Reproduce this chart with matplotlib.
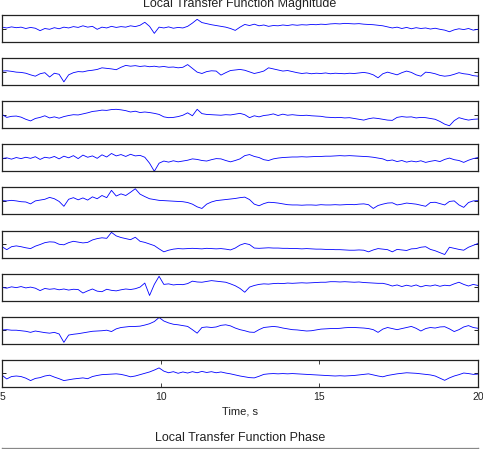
import numpy as np
import matplotlib
matplotlib.use("Agg")
import matplotlib.pyplot as plt

plt.rcParams["font.family"] = ["Liberation Sans", "DejaVu Sans"]

# time axis, 101 samples from 5 s to 20 s
time = np.linspace(5, 20, 101)

# magnitude traces (arbitrary units, 0..100 per strip)
ch1 = [55, 52, 56, 53, 55, 50, 54, 51, 42, 50, 47, 53, 49, 55, 52, 57, 54, 60, 55, 58,
       47, 55, 52, 58, 54, 57, 55, 60, 57, 62, 73, 58, 32, 55, 52, 56, 51, 54, 52, 58,
       70, 84, 72, 68, 64, 61, 58, 55, 50, 43, 55, 65, 61, 66, 60, 63, 58, 61, 60, 63,
       61, 64, 62, 64, 63, 65, 64, 66, 65, 67, 68, 67, 69, 68, 67, 68, 66, 65, 64, 62,
       60, 56, 52, 55, 50, 54, 49, 53, 50, 52, 48, 51, 47, 44, 38, 45, 49, 46, 50, 44, 47]
ch2 = [52, 53, 51, 48, 47, 44, 38, 33, 42, 46, 30, 44, 40, 12, 38, 46, 50, 49, 53, 55,
       58, 64, 62, 60, 57, 66, 73, 70, 72, 69, 71, 68, 70, 67, 69, 66, 67, 64, 66, 76,
       62, 48, 43, 50, 53, 52, 37, 46, 54, 56, 58, 55, 49, 43, 47, 52, 64, 60, 56, 52,
       54, 50, 46, 43, 45, 42, 44, 43, 45, 42, 44, 43, 42, 44, 43, 45, 47, 44, 38, 27,
       42, 48, 43, 38, 46, 52, 47, 38, 33, 48, 46, 42, 36, 33, 35, 40, 46, 42, 40, 35, 33]
ch3 = [51, 40, 44, 45, 41, 33, 27, 36, 40, 46, 38, 42, 37, 43, 47, 50, 49, 53, 57, 62,
       64, 67, 66, 69, 70, 68, 65, 60, 63, 58, 60, 58, 55, 51, 42, 39, 40, 43, 48, 57,
       46, 70, 54, 51, 50, 49, 48, 50, 49, 52, 55, 50, 39, 46, 42, 47, 49, 53, 47, 52,
       48, 50, 48, 47, 48, 46, 45, 44, 41, 40, 39, 40, 38, 39, 36, 33, 30, 35, 38, 36,
       33, 30, 29, 40, 43, 41, 42, 38, 40, 39, 36, 33, 25, 15, 9, 28, 39, 34, 30, 33, 34]
ch4 = [47, 50, 45, 51, 47, 52, 48, 54, 44, 52, 49, 55, 46, 56, 50, 58, 47, 60, 52, 57,
       48, 61, 53, 66, 57, 62, 55, 63, 57, 59, 52, 30, 0, 30, 38, 34, 39, 35, 38, 41,
       46, 44, 40, 38, 43, 47, 46, 40, 35, 40, 46, 58, 62, 55, 51, 43, 40, 46, 49, 51,
       52, 53, 53, 54, 53, 54, 55, 55, 56, 56, 57, 58, 57, 58, 57, 56, 55, 54, 52, 49,
       46, 39, 42, 36, 40, 34, 38, 35, 39, 33, 37, 40, 36, 44, 49, 43, 40, 33, 41, 47, 51]
ch5 = [51, 50, 52, 50, 47, 46, 39, 50, 53, 56, 63, 58, 48, 30, 56, 62, 54, 61, 53, 65,
       58, 70, 62, 89, 68, 76, 70, 82, 95, 75, 66, 58, 55, 52, 51, 50, 49, 48, 47, 44,
       38, 28, 22, 38, 46, 51, 53, 55, 57, 59, 62, 64, 55, 38, 32, 40, 45, 44, 42, 39,
       36, 35, 35, 34, 35, 35, 34, 36, 35, 35, 36, 35, 36, 37, 36, 38, 39, 36, 22, 33,
       38, 42, 43, 35, 38, 42, 40, 38, 34, 30, 44, 45, 40, 35, 48, 50, 35, 26, 44, 50, 51]
ch6 = [40, 29, 40, 43, 40, 36, 33, 42, 48, 55, 58, 57, 49, 47, 55, 60, 57, 54, 56, 65,
       70, 73, 71, 93, 80, 74, 70, 66, 75, 60, 56, 50, 44, 32, 21, 27, 31, 33, 32, 33,
       34, 33, 32, 34, 33, 32, 33, 31, 28, 35, 46, 52, 48, 35, 34, 35, 36, 35, 35, 34,
       34, 33, 33, 32, 33, 32, 31, 31, 30, 30, 29, 29, 28, 27, 27, 28, 27, 21, 28, 33,
       31, 29, 21, 30, 28, 26, 32, 33, 38, 40, 30, 25, 18, 11, 38, 34, 30, 27, 38, 45, 52]
ch7 = [49, 46, 51, 48, 52, 47, 50, 46, 37, 45, 42, 44, 40, 43, 39, 42, 41, 28, 36, 43,
       35, 33, 42, 38, 36, 40, 43, 41, 44, 50, 65, 19, 60, 90, 60, 62, 58, 60, 59, 63,
       72, 69, 68, 71, 74, 72, 70, 68, 62, 55, 45, 31, 50, 56, 60, 62, 61, 63, 64, 63,
       65, 64, 65, 66, 65, 66, 67, 68, 68, 70, 70, 69, 70, 69, 68, 69, 67, 66, 65, 64,
       64, 60, 54, 58, 52, 57, 53, 58, 51, 56, 54, 58, 53, 57, 55, 62, 68, 60, 54, 60, 56]
ch8 = [51, 52, 50, 50, 48, 46, 42, 47, 44, 41, 39, 42, 36, 5, 32, 35, 37, 40, 43, 46,
       47, 48, 50, 45, 55, 60, 62, 64, 64, 65, 69, 74, 82, 97, 84, 77, 72, 70, 67, 64,
       52, 39, 60, 62, 60, 62, 68, 70, 66, 58, 52, 48, 43, 42, 52, 60, 62, 64, 62, 58,
       55, 52, 51, 49, 47, 48, 51, 54, 55, 56, 56, 57, 59, 60, 60, 59, 58, 56, 52, 42,
       54, 60, 56, 52, 56, 60, 64, 57, 47, 56, 60, 58, 62, 63, 55, 45, 52, 62, 67, 60, 57]
ch9 = [43, 29, 38, 40, 38, 32, 23, 31, 34, 40, 43, 36, 30, 23, 26, 29, 31, 33, 30, 38,
       42, 45, 46, 47, 48, 46, 42, 37, 40, 45, 50, 55, 62, 70, 58, 52, 56, 50, 55, 51,
       56, 52, 57, 53, 56, 52, 55, 51, 48, 44, 40, 37, 34, 33, 39, 46, 48, 49, 48, 49,
       48, 49, 48, 47, 46, 45, 44, 43, 42, 41, 40, 41, 40, 41, 42, 44, 46, 48, 44, 40,
       37, 42, 45, 48, 50, 52, 51, 50, 48, 46, 44, 40, 32, 24, 33, 40, 45, 51, 49, 46, 47]

channels = [ch1, ch2, ch3, ch4, ch5, ch6, ch7, ch8, ch9]
xticks = [5, 10, 15, 20]

W, H = 483, 449
fig = plt.figure(figsize=(W / 100, H / 100), dpi=100)

left = 2 / W
width = 476 / W
strip_h = 27
for k, ch in enumerate(channels):
    top = 15 + 43.1 * k
    ax = fig.add_axes([left, 1 - (top + strip_h) / H, width, strip_h / H])
    ax.plot(time, ch, color="#0000ff", lw=0.6)
    ax.set_xlim(5, 20)
    ax.set_ylim(0, 100)
    ax.set_yticks([50])
    ax.set_yticklabels([])
    for s in ax.spines.values():
        s.set_linewidth(0.9)
        s.set_color("#222222")
    ax.tick_params(axis="y", direction="in", length=3, width=0.6, left=True, right=True)
    if k == len(channels) - 1:
        ax.set_xticks(xticks)
        ax.tick_params(axis="x", direction="in", length=3, width=0.6, top=True,
                       labelsize=7.5, pad=3.5, colors="#222222")
    else:
        ax.set_xticks([])

fig.text(240 / W, 1 - 7.5 / H, "Local Transfer Function Magnitude", ha="center",
         va="baseline", fontsize=9, color="#222222")
fig.text(240 / W, 1 - 411 / H, "Time, s", ha="center", va="center", fontsize=8,
         color="#222222")
fig.text(240 / W, 1 - 441 / H, "Local Transfer Function Phase", ha="center",
         va="baseline", fontsize=9, color="#222222")

# top edge of the next (phase) plot, mostly outside the crop
ax_p = fig.add_axes([2 / W, -27 / H, 476 / W, 28 / H])
ax_p.set_xticks([])
ax_p.set_yticks([])
for s in ax_p.spines.values():
    s.set_color("#888888")
    s.set_linewidth(0.9)

fig.savefig("out.png", dpi=100)
